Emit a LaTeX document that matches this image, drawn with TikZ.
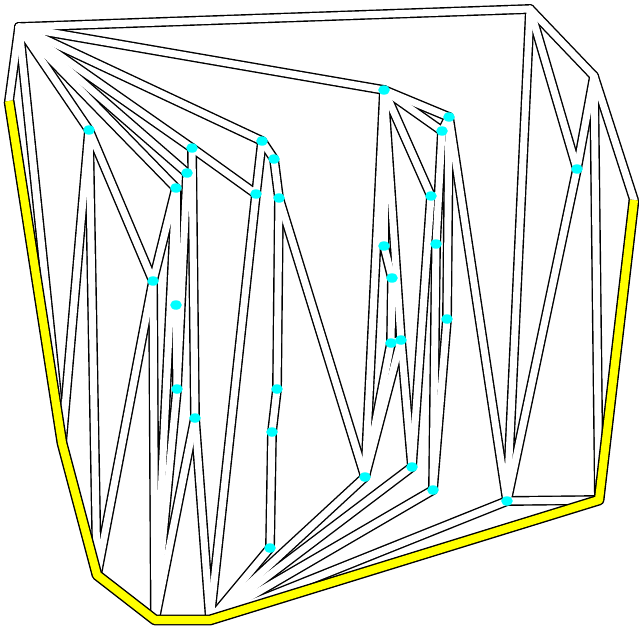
\documentclass[tikz,border=0pt]{standalone}
\usepackage{tikz}
\usetikzlibrary{shapes.geometric}

\definecolor{sitecyan}{RGB}{0,255,255}
\definecolor{hullyellow}{RGB}{255,255,0}

\tikzset{
  band border/.style={line width=5.6pt, black, line cap=round, line join=round},
  band core/.style={line width=4pt, white, line cap=round, line join=round},
  hull border/.style={line width=6.2pt, black, line join=round},
  hull core/.style={line width=4.6pt, hullyellow, line join=round},
  site/.style={ellipse, fill=sitecyan, inner sep=0pt, minimum width=6.6pt, minimum height=5.4pt},
}

\def\edgelist{A/B, B/C, C/D, A/J, J/I, I/H, H/G, G/F, F/E, E/D,
  A/I, A/P1, A/P4, A/P3, A/P2, P2/P7, A/P5, A/Q1,
  P1/I, P1/H, P1/P9, P9/H, P9/G, P9/P4, P4/P10, P10/P11, P4/G, P3/P11, P11/G,
  P2/P12, P12/G, P12/F,
  P5/P6, P5/P7, P6/P8, P8/P13, P13/P14, P14/P15, P15/F, P7/F, P8/Q11,
  Q1/Q2, Q1/Q3, Q2/Q3, Q1/Q4, Q1/Q11, Q1/Q10, Q2/Q8, Q8/Q13, Q3/Q7, Q7/Q13, Q4/Q12,
  Q1/Q5, Q5/Q6, Q6/Q9, Q9/Q11, Q9/Q10, Q10/Q11, Q10/Q12,
  Q2/Q14, Q11/F, Q12/F, Q13/F, Q14/F, Q14/E, C/E, R1/Q14, B/R1, C/R1, B/Q14}

\begin{document}
\begin{tikzpicture}[x=0.2mm, y=-0.2mm]
  \useasboundingbox (0,0) rectangle (639,630);

  % outer corners
  \coordinate (A) at (19,27);
  \coordinate (B) at (530,9);
  \coordinate (C) at (594,76);
  \coordinate (D) at (634,200);
  \coordinate (E) at (599,500);
  \coordinate (F) at (210,620);
  \coordinate (G) at (155,620);
  \coordinate (H) at (97,575);
  \coordinate (I) at (62,443);
  \coordinate (J) at (9,101);
  % inner sites, left half
  \coordinate (P1) at (89,130);
  \coordinate (P2) at (192,148);
  \coordinate (P3) at (187,173);
  \coordinate (P4) at (176,188);
  \coordinate (P5) at (262,141);
  \coordinate (P6) at (274,159);
  \coordinate (P7) at (256,194);
  \coordinate (P8) at (279,198);
  \coordinate (P9) at (153,281);
  \coordinate (P10) at (176,305);
  \coordinate (P11) at (177,389);
  \coordinate (P12) at (195,418);
  \coordinate (P13) at (277,389);
  \coordinate (P14) at (272,432);
  \coordinate (P15) at (270,548);
  % inner sites, right half
  \coordinate (Q1) at (384,90);
  \coordinate (Q2) at (449,117);
  \coordinate (Q3) at (442,131);
  \coordinate (Q4) at (431,196);
  \coordinate (Q5) at (384,246);
  \coordinate (Q6) at (392,278);
  \coordinate (Q7) at (436,244);
  \coordinate (Q8) at (447,319);
  \coordinate (Q9) at (391,343);
  \coordinate (Q10) at (401,340);
  \coordinate (Q11) at (365,477);
  \coordinate (Q12) at (412,467);
  \coordinate (Q13) at (433,490);
  \coordinate (Q14) at (507,501);
  \coordinate (R1) at (577,169);

  \foreach \a/\b in \edgelist
    \draw[band border] (\a) -- (\b);
  \foreach \a/\b in \edgelist
    \draw[band core] (\a) -- (\b);

  % yellow part of the hull
  \draw[hull border] (J) -- (I) -- (H) -- (G) -- (F) -- (E) -- (D);
  \draw[hull core] (J) -- (I) -- (H) -- (G) -- (F) -- (E) -- (D);

  \foreach \p in {P1,P2,P3,P4,P5,P6,P7,P8,P9,P10,P11,P12,P13,P14,P15,
                  Q1,Q2,Q3,Q4,Q5,Q6,Q7,Q8,Q9,Q10,Q11,Q12,Q13,Q14,R1}
    \node[site] (dot\p) at (\p) {};
\end{tikzpicture}
\end{document}
